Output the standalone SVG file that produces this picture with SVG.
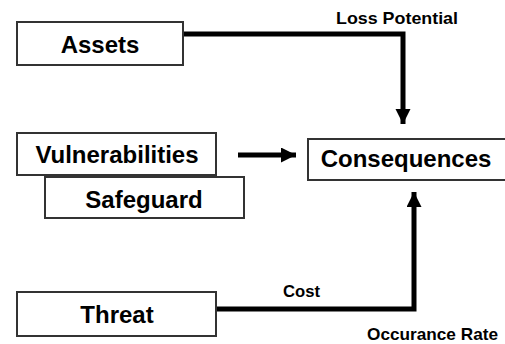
<svg xmlns="http://www.w3.org/2000/svg" width="505" height="344" viewBox="0 0 505 344">
  <style>
    .box { fill: #ffffff; stroke: #333333; stroke-width: 2; }
    .node { font-family: "Liberation Sans", Arial, sans-serif; font-weight: bold; font-size: 24px; fill: #000000; text-anchor: middle; }
    .lbl { font-family: "Liberation Sans", Arial, sans-serif; font-weight: bold; font-size: 17px; fill: #000000; }
    .conn { fill: none; stroke: #000000; stroke-width: 5; stroke-linejoin: miter; }
  </style>
  <defs>
    <marker id="arrow" markerUnits="userSpaceOnUse" markerWidth="16" markerHeight="16" refX="15" refY="7.5" orient="auto">
      <path d="M0,0 L15,7.5 L0,15 Z" fill="#000000"/>
    </marker>
  </defs>
  <rect width="505" height="344" fill="#ffffff"/>

  <g id="connectors">
    <polyline class="conn" points="183,34 403,34 403,124" marker-end="url(#arrow)"/>
    <line class="conn" x1="238" y1="155" x2="296" y2="155" marker-end="url(#arrow)"/>
    <polyline class="conn" points="216,309 414,309 414,192" marker-end="url(#arrow)"/>
    <text class="lbl" x="336" y="24" textLength="122" lengthAdjust="spacingAndGlyphs">Loss Potential</text>
    <text class="lbl" x="283" y="297" textLength="37" lengthAdjust="spacingAndGlyphs">Cost</text>
    <text class="lbl" x="367" y="340" textLength="131" lengthAdjust="spacingAndGlyphs">Occurance Rate</text>
  </g>

  <g id="assets">
    <rect class="box" x="17" y="22" width="166" height="43"/>
    <text class="node" x="100" y="53">Assets</text>
  </g>
  <g id="vulnerabilities">
    <rect class="box" x="17" y="133" width="199" height="42"/>
    <text class="node" x="117" y="163">Vulnerabilities</text>
  </g>
  <g id="safeguard">
    <rect class="box" x="45" y="177" width="199" height="41"/>
    <text class="node" x="144" y="208">Safeguard</text>
  </g>
  <g id="consequences">
    <rect class="box" x="308" y="139" width="210" height="41"/>
    <text class="node" x="406" y="167">Consequences</text>
  </g>
  <g id="threat">
    <rect class="box" x="17" y="292" width="199" height="44"/>
    <text class="node" x="117" y="323">Threat</text>
  </g>
</svg>
